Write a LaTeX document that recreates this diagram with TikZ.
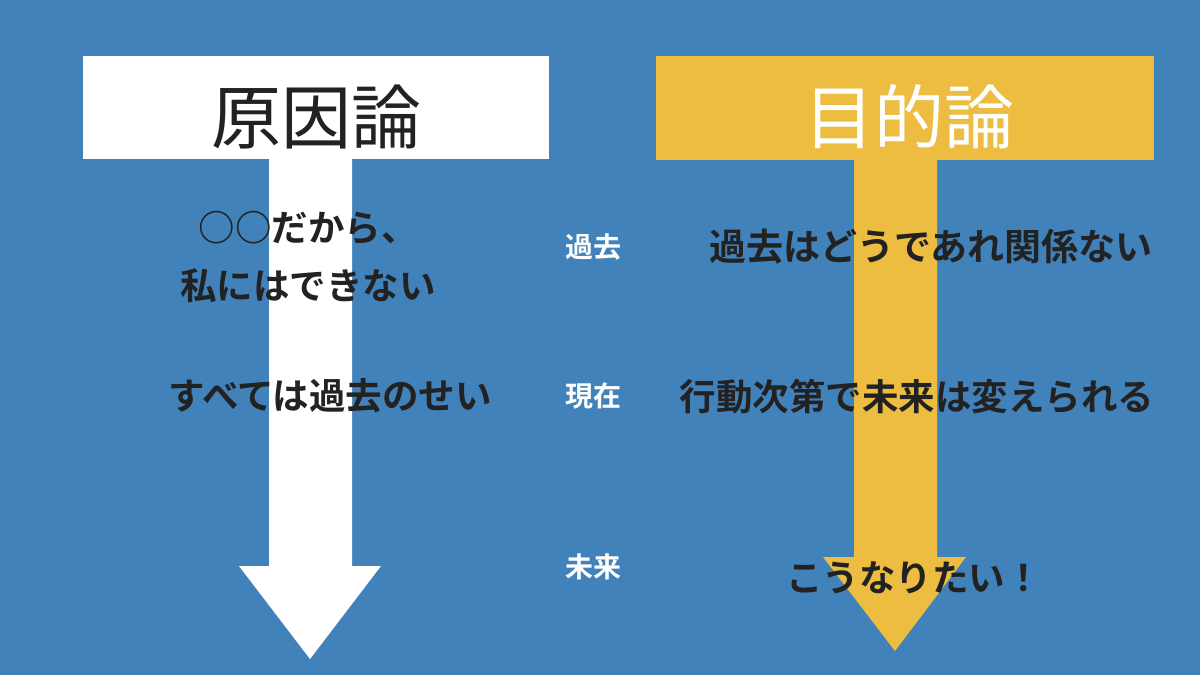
\documentclass[tikz,border=0pt]{standalone}
\usepackage{fontspec}
\newfontfamily\jp{Noto Sans CJK JP}
\newfontfamily\jpb{Noto Sans CJK JP Bold}
\definecolor{bgblue}{RGB}{66,130,186}
\definecolor{gold}{RGB}{237,189,66}
\definecolor{ink}{RGB}{34,34,34}
\tikzset{
  head/.style={inner sep=0pt, font=\jp\fontsize{70}{80}\selectfont},
  lbl/.style={inner sep=0pt, text=ink, font=\jpb\fontsize{36.5}{58}\selectfont, align=center},
  era/.style={inner sep=0pt, text=white, font=\jpb\fontsize{28}{30}\selectfont},
}
\begin{document}
\begin{tikzpicture}[x=1pt,y=-1pt]
\fill[bgblue] (0,0) rectangle (1200,675);
\useasboundingbox (0,0) rectangle (1200,675);
% left T arrow
\fill[white] (83,56) rectangle (549,159);
\fill[white] (269,158) -- (352,158) -- (352,566) -- (381,566) -- (310,659) -- (239,566) -- (269,566) -- cycle;
% right T arrow
\fill[gold] (656,56) rectangle (1154,160);
\fill[gold] (854,159) -- (937,159) -- (937,557) -- (966,557) -- (895,651) -- (823,557) -- (854,557) -- cycle;
% headings
\node[head, text=ink] (cause) at (316,117) {原因論};
\node[head, text=white] (purpose) at (909,117) {目的論};
% left texts
\node[lbl] (l1) at (308,257) {○○だから、\\私にはできない};
\node[lbl] (l2) at (330,396) {すべては過去のせい};
% middle labels
\node[era] (past) at (593,247) {過去};
\node[era] (now) at (593,396) {現在};
\node[era] (future) at (593,567) {未来};
% right texts
\node[lbl, font=\jpb\fontsize{37}{44}\selectfont] (r1) at (931,247) {過去はどうであれ関係ない};
\node[lbl] (r2) at (917,397) {行動次第で未来は変えられる};
\node[lbl] (r3) at (914,578) {こうなりたい！};
\end{tikzpicture}
\end{document}
